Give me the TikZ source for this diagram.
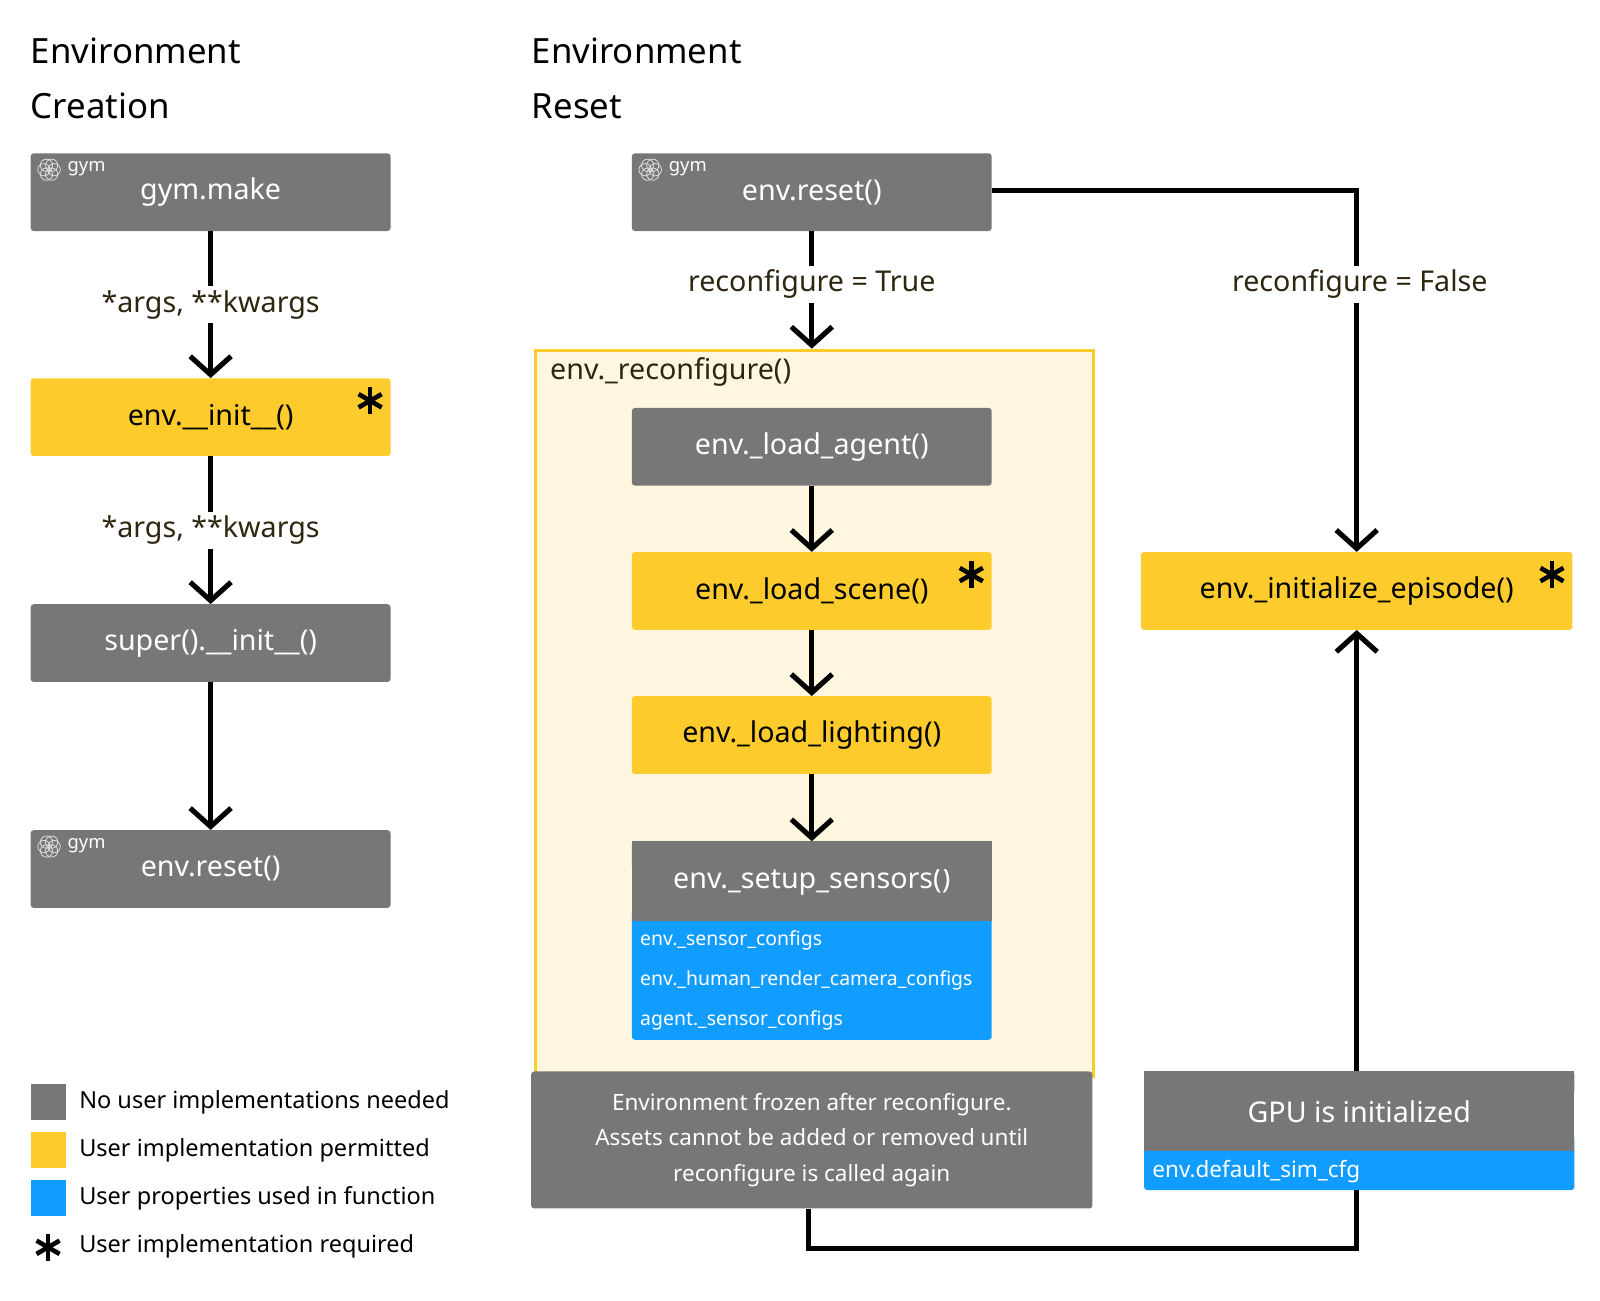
\documentclass[tikz,border=0pt]{standalone}
\usepackage{fontspec}
\setmainfont{Noto Sans}
\usetikzlibrary{arrows.meta,calc}
\newcommand{\fsz}[1]{\fontsize{#1}{#1}\selectfont}
\definecolor{gr}{HTML}{777777}
\definecolor{yl}{HTML}{FDCC2C}
\definecolor{bl}{HTML}{119CFF}
\definecolor{cream}{HTML}{FFF6DF}
\definecolor{lbl}{HTML}{2E2610}
\begin{document}
\begin{tikzpicture}[x=1pt,y=-1pt,
  box/.style={rectangle, minimum width=352pt, minimum height=76pt, rounded corners=3pt, inner sep=0pt, font=\fsz{28}},
  gbox/.style={box, fill=gr, text=white},
  ybox/.style={box, fill=yl, text=black},
  lab/.style={fill=white, text=lbl, font=\fsz{28}, inner sep=4pt},
  con/.style={line width=5pt},
  arr/.style={con, -{Straight Barb[length=18pt,width=40pt,line width=5pt]}},
  leg/.style={anchor=west, font=\fsz{23}, text=black},
  sub/.style={anchor=west, font=\fsz{19}, text=white, inner sep=0pt}]
\useasboundingbox (0,0) rectangle (1565,1272);
\fill[white] (0,0) rectangle (1565,1272);
\newcommand{\gymicon}[2]{%
  \foreach \a in {0,60,...,300}{\draw[white!75!gr, line width=0.8pt] ($(#1,#2)+(\a:5)$) circle (6);}%
  \node[anchor=west, text=white, font=\fsz{18}, inner sep=0pt] at (#1+18,#2-1) {gym};}
\newcommand{\astx}[2]{%
  \foreach \a in {90,30,150}{\draw[line width=4.5pt] ($(#1,#2)+(\a:13)$) -- ($(#1,#2)+(\a+180:13)$);}}
% titles
\node[anchor=west, font=\fsz{34}, inner sep=0pt] (t1) at (30,50) {Environment};
\node[anchor=west, font=\fsz{34}, inner sep=0pt] (t2) at (30,104) {Creation};
\node[anchor=west, font=\fsz{34}, inner sep=0pt] (t3) at (520,50) {Environment};
\node[anchor=west, font=\fsz{34}, inner sep=0pt] (t4) at (520,104) {Reset};
% left column
\node[gbox] (make) at (206,188) {gym.make};
\node[ybox] (init) at (206,408) {env.\_\_init\_\_()};
\node[gbox] (super) at (206,629) {super().\_\_init\_\_()};
\node[gbox] (reset1) at (206,850) {env.reset()};
\draw[arr] (make.south) -- (init.north) node[lab, midway] (l1) {*args, **kwargs};
\draw[arr] (init.south) -- (super.north) node[lab, midway] (l2) {*args, **kwargs};
\draw[arr] (super.south) -- (reset1.north);
% reconfigure container
\node[rectangle, draw=yl, line width=3pt, fill=cream, minimum width=546pt, minimum height=710pt, anchor=north west, inner sep=0pt] (rc) at (522,341) {};
\node[anchor=west, font=\fsz{28}, text=lbl, inner sep=0pt] (rcl) at (538,364) {env.\_reconfigure()};
\node[gbox] (reset2) at (794,188) {env.reset()};
\node[gbox] (agent) at (794,437) {env.\_load\_agent()};
\node[ybox] (scene) at (794,578) {env.\_load\_scene()};
\node[ybox] (light) at (794,719) {env.\_load\_lighting()};
\fill[bl, rounded corners=3pt] (618,890) rectangle (970,1017);
\node[gbox, minimum height=78pt, rounded corners=0pt] (sens) at (794,862) {env.\_setup\_sensors()};
\fill[gr, rounded corners=3pt] (618,823) rectangle (970,850);
\node[sub] (s1) at (626,920) {env.\_sensor\_configs};
\node[sub] (s2) at (626,959) {env.\_human\_render\_camera\_configs};
\node[sub] (s3) at (626,998) {agent.\_sensor\_configs};
\draw[arr] (reset2.south) -- (rc.north -| reset2) node[lab, pos=0.45] (l3) {reconfigure = True};
\draw[arr] (agent.south) -- (scene.north);
\draw[arr] (scene.south) -- (light.north);
\draw[arr] (light.south) -- (sens.north);
\node[rectangle, fill=gr, rounded corners=3pt, minimum width=549pt, minimum height=134pt, inner sep=0pt, text=white, font=\fsz{22}, align=center] (frozen) at (794,1115) {Environment frozen after reconfigure.\\[13pt]Assets cannot be added or removed until\\[13pt]reconfigure is called again};
% right
\node[box, fill=yl, minimum width=422pt] (ep) at (1327,578) {env.\_initialize\_episode()};
\fill[bl, rounded corners=3pt] (1119,1110) rectangle (1540,1164);
\node[gbox, minimum width=421pt, minimum height=78pt, rounded corners=0pt] (gpu) at (1329.5,1087) {GPU is initialized};
\fill[gr, rounded corners=3pt] (1119,1048) rectangle (1540,1070);
\node[sub, font=\fsz{22}] (cfg) at (1127,1146) {env.default\_sim\_cfg};
\coordinate (c1) at (1327,186);
\coordinate (c2) at (791,1221);
\coordinate (c3) at (1327,1221);
\draw[arr] (reset2.east |- c1) -- (c1) -- (ep.north -| c1);
\node[lab] (l4) at (1330,278) {reconfigure = False};
\draw[con] (frozen.south -| c2) -- (c2) -- (c3) -- (1327,1164);
\draw[arr] (1327,1048) -- (ep.south -| c1);
% icons, asterisks
\gymicon{48}{166}
\gymicon{636}{166}
\gymicon{48}{828}
\astx{362}{392}
\astx{950}{562}
\astx{1518}{562}
% legend
\fill[gr] (30,1060) rectangle (65,1095);
\fill[yl] (30,1107) rectangle (65,1142);
\fill[bl] (30,1154) rectangle (65,1189);
\astx{47}{1220}
\node[leg] (g1) at (74,1078) {No user implementations needed};
\node[leg] (g2) at (74,1125) {User implementation permitted};
\node[leg] (g3) at (74,1172) {User properties used in function};
\node[leg] (g4) at (74,1219) {User implementation required};
\end{tikzpicture}
\end{document}
